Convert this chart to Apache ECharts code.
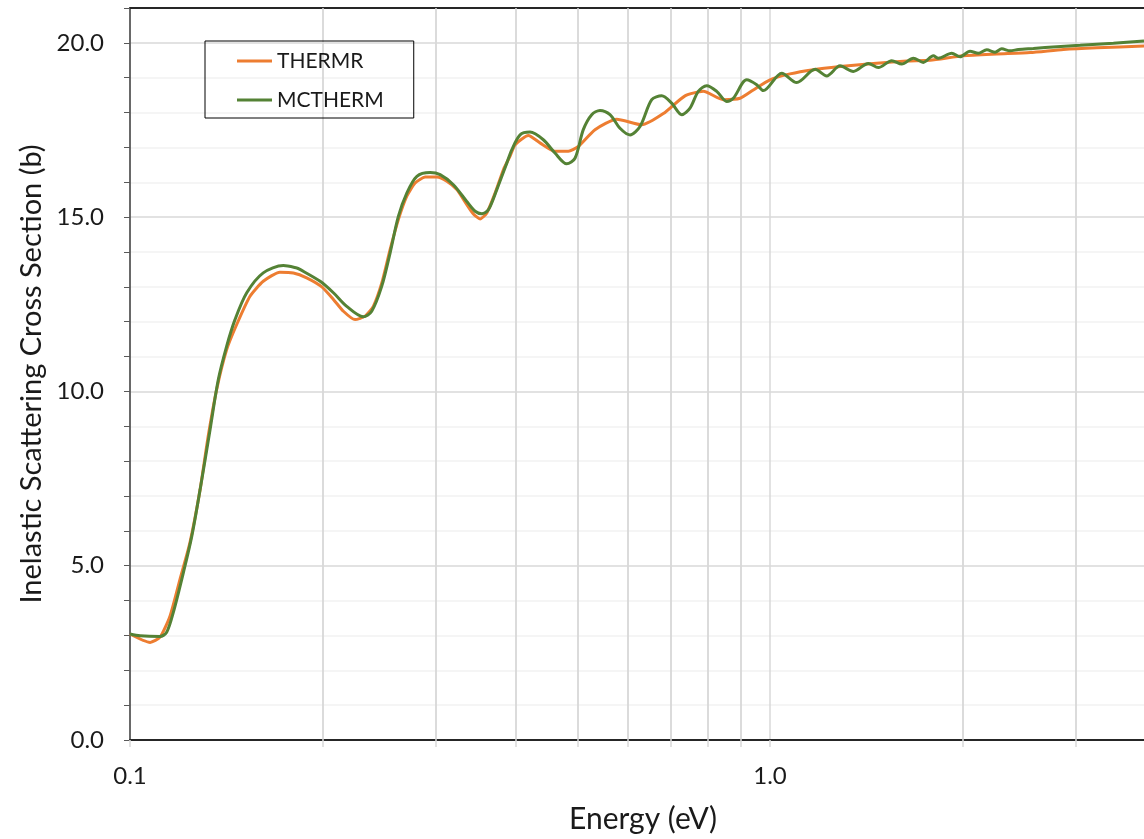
<!DOCTYPE html>
<html>
<head>
<meta charset="utf-8">
<script src="https://cdn.jsdelivr.net/npm/echarts@6/dist/echarts.min.js"></script>
<style>
  html, body { margin: 0; padding: 0; background: #fff; }
  #main { width: 1144px; height: 839px; }
</style>
</head>
<body>
<div id="main"></div>
<script>
// energies in eV, cross sections in barns
var thermrEnergy = [0.1, 0.1075, 0.1114, 0.1155, 0.1197, 0.1241, 0.1287, 0.1325, 0.1366, 0.1416,
  0.1468, 0.154, 0.1615, 0.1715, 0.18, 0.1888, 0.1994, 0.2079, 0.2155, 0.2247,
  0.233, 0.24, 0.2474, 0.2549, 0.2626, 0.2707, 0.2789, 0.2892, 0.3016, 0.3126,
  0.3241, 0.3359, 0.344, 0.3524, 0.361, 0.3719, 0.3832, 0.3925, 0.3997, 0.4192,
  0.4371, 0.4613, 0.484, 0.5017, 0.5328, 0.5761, 0.6303, 0.6812, 0.7365, 0.7866,
  0.8453, 0.8977, 0.9417, 1.0, 1.0746, 1.1686, 1.2865, 1.4503, 1.6355, 1.7783,
  2.005, 2.261, 2.5487, 2.874, 3.2406, 3.84];
var thermrXs = [3.04, 2.8, 2.95, 3.56, 4.61, 5.67, 7.19, 8.72, 10.06, 11.2,
  11.92, 12.73, 13.16, 13.42, 13.4, 13.26, 13.0, 12.64, 12.3, 12.06,
  12.16, 12.44, 13.11, 14.07, 14.93, 15.6, 15.98, 16.15, 16.15, 16.03,
  15.79, 15.36, 15.09, 14.95, 15.12, 15.69, 16.36, 16.75, 17.08, 17.34,
  17.13, 16.89, 16.89, 17.03, 17.51, 17.81, 17.65, 17.97, 18.48, 18.61,
  18.37, 18.41, 18.65, 18.94, 19.11, 19.23, 19.32, 19.41, 19.48, 19.5,
  19.63, 19.68, 19.72, 19.81, 19.86, 19.91];

var mcthermEnergy = [0.1, 0.1037, 0.1114, 0.1141, 0.1169, 0.1212, 0.1249, 0.1287, 0.1334, 0.1374,
  0.1416, 0.1459, 0.1522, 0.1615, 0.1736, 0.1822, 0.1843, 0.1982, 0.2079, 0.2181,
  0.2315, 0.2386, 0.2474, 0.2549, 0.2626, 0.2707, 0.2807, 0.2944, 0.3052, 0.3201,
  0.3359, 0.3461, 0.3545, 0.363, 0.3742, 0.3879, 0.3949, 0.4069, 0.4217, 0.4424,
  0.4613, 0.4812, 0.4958, 0.5108, 0.5265, 0.5424, 0.5623, 0.5829, 0.6043, 0.6264,
  0.6534, 0.6773, 0.7021, 0.7279, 0.7499, 0.7726, 0.7963, 0.8255, 0.8557, 0.8763,
  0.9196, 0.9533, 0.9762, 1.043, 1.1008, 1.1763, 1.2263, 1.2865, 1.3495, 1.4244,
  1.4766, 1.5496, 1.6063, 1.6748, 1.736, 1.7995, 1.8322, 1.9229, 1.9812, 2.0535,
  2.1158, 2.1812, 2.2472, 2.302, 2.3714, 2.4434, 2.5791, 2.8065, 3.0518, 3.44,
  3.84];
var mcthermXs = [3.04, 2.99, 2.97, 3.09, 3.67, 4.81, 5.85, 7.19, 8.91, 10.34,
  11.3, 12.06, 12.83, 13.4, 13.61, 13.54, 13.5, 13.16, 12.83, 12.44,
  12.14, 12.3, 13.02, 13.97, 15.02, 15.69, 16.17, 16.28, 16.22, 15.93,
  15.45, 15.17, 15.1, 15.21, 15.79, 16.55, 16.93, 17.36, 17.44, 17.22,
  16.84, 16.53, 16.69, 17.51, 17.94, 18.06, 17.94, 17.55, 17.36, 17.6,
  18.37, 18.48, 18.27, 17.94, 18.13, 18.61, 18.77, 18.61, 18.32, 18.41,
  18.94, 18.8, 18.63, 19.13, 18.86, 19.24, 19.05, 19.34, 19.18, 19.41,
  19.29, 19.49, 19.39, 19.56, 19.44, 19.63, 19.56, 19.7, 19.6, 19.76,
  19.7, 19.8, 19.73, 19.83, 19.77, 19.81, 19.84, 19.89, 19.93, 19.99,
  20.05];

var xMinorLines = [0.2, 0.3, 0.4, 0.5, 0.6, 0.7, 0.8, 0.9, 2, 3];
var xTickValues = [0.1, 0.2, 0.3, 0.4, 0.5, 0.6, 0.7, 0.8, 0.9, 1, 2, 3];
var xLabels = { 0.1: '0.1', 1: '1.0' };

function pairs(xs, ys) {
  return xs.map(function (x, i) { return [x, ys[i]]; });
}

var font = 'Lato';
var chart = echarts.init(document.getElementById('main'));

chart.setOption({
  animation: false,
  textStyle: { fontFamily: font },
  grid: { left: 130, top: 8, bottom: 98, right: 0 },
  legend: {
    orient: 'vertical',
    left: 205, top: 41,
    padding: [7, 30, 5, 32],
    borderColor: '#000', borderWidth: 1,
    itemWidth: 35, itemHeight: 3, itemGap: 13,
    icon: 'rect',
    textStyle: { fontFamily: font, fontSize: 21, color: '#1a1a1a', lineHeight: 26 },
    data: ['THERMR', 'MCTHERM']
  },
  xAxis: [{
    type: 'log', logBase: 10, min: 0.1, max: 3.84,
    name: 'Energy (eV)', nameLocation: 'middle', nameGap: 64,
    nameTextStyle: { fontFamily: font, fontSize: 30, color: '#1a1a1a', padding: [0, 0, 0, 12] },
    axisLine: { lineStyle: { color: '#262626', width: 2 } },
    axisTick: { length: 7, customValues: xTickValues, lineStyle: { color: '#d9d9d9', width: 1.5 } },
    axisLabel: {
      margin: 24, fontSize: 24, color: '#1a1a1a', fontFamily: font,
      showMaxLabel: false,
      formatter: function (v) { return xLabels[v] || ''; }
    },
    splitLine: { show: true, lineStyle: { color: '#d9d9d9', width: 1.5 } }
  }, {
    // top frame line only
    type: 'log', logBase: 10, min: 0.1, max: 3.84, position: 'top',
    axisLine: { lineStyle: { color: '#262626', width: 2 } },
    axisTick: { show: false }, axisLabel: { show: false }, splitLine: { show: false }
  }],
  yAxis: {
    type: 'value', min: 0, max: 21, interval: 1,
    name: 'Inelastic Scattering Cross Section (b)', nameLocation: 'middle', nameGap: 82,
    nameTextStyle: { fontFamily: font, fontSize: 29, color: '#1a1a1a' },
    axisLine: { show: true, lineStyle: { color: '#404040', width: 1.5 } },
    axisTick: { show: true, length: 6, lineStyle: { color: '#595959' } },
    axisLabel: {
      margin: 26, fontSize: 24, color: '#1a1a1a', fontFamily: font,
      formatter: function (v) { return v % 5 === 0 ? v.toFixed(1) : ''; }
    },
    splitLine: { show: true, lineStyle: { color: ['#d9d9d9', '#f2f2f2', '#f2f2f2', '#f2f2f2', '#f2f2f2'], width: 1.5 } }
  },
  series: [
    {
      name: 'THERMR', type: 'line', data: pairs(thermrEnergy, thermrXs),
      showSymbol: false, symbol: 'none', smooth: 0.2, z: 3,
      lineStyle: { color: '#ED7D31', width: 3 }, itemStyle: { color: '#ED7D31' },
      markLine: {
        silent: true, symbol: 'none', animation: false, z: 1,
        label: { show: false },
        lineStyle: { color: '#d9d9d9', width: 1.5, type: 'solid' },
        data: xMinorLines.map(function (v) { return [{ coord: [v, 0] }, { coord: [v, 21] }]; })
      }
    },
    {
      name: 'MCTHERM', type: 'line', data: pairs(mcthermEnergy, mcthermXs),
      showSymbol: false, symbol: 'none', smooth: 0.3, z: 4,
      lineStyle: { color: '#548235', width: 3 }, itemStyle: { color: '#548235' }
    }
  ]
});
</script>
</body>
</html>
